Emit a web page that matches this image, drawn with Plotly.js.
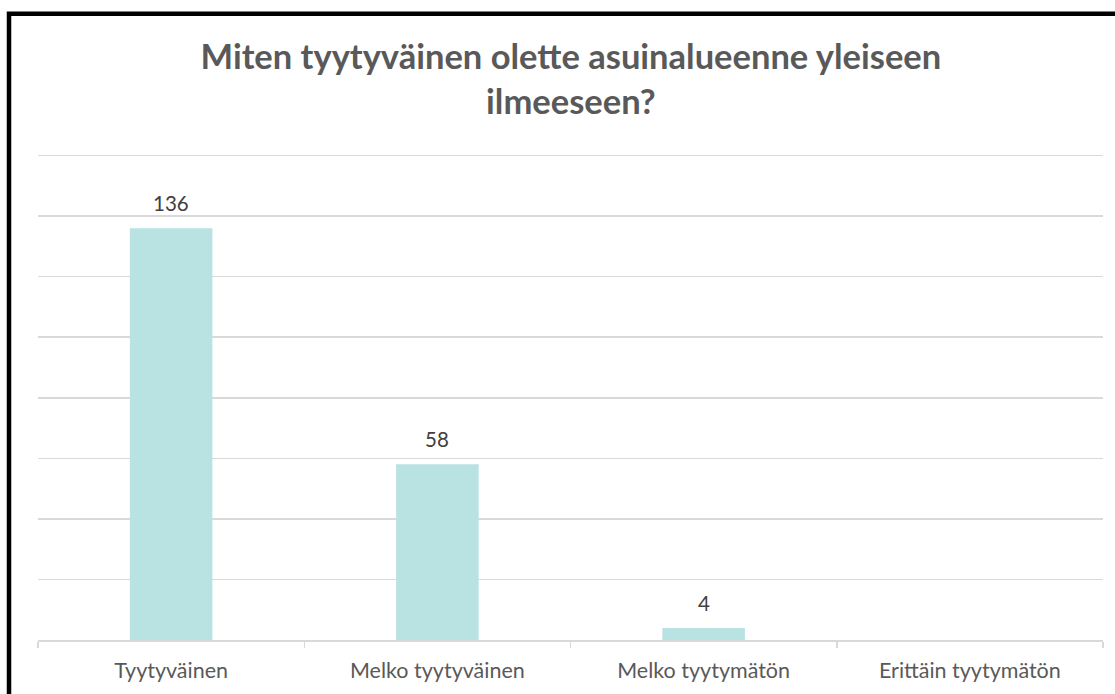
<!DOCTYPE html>
<html>
<head>
<meta charset="utf-8">
<script src="https://cdn.plot.ly/plotly-3.0.1.min.js"></script>
<style>
  html, body { margin: 0; padding: 0; background: #ffffff; }
  #chart { width: 1115px; height: 694px; }
</style>
</head>
<body>
<div id="chart"></div>
<script>
const categories = ['Tyytyväinen', 'Melko tyytyväinen', 'Melko tyytymätön', 'Erittäin tyytymätön'];
const counts = [136, 58, 4, null];
const dataLabels = ['136', '58', '4', ''];
const chartTitle = 'Miten tyytyväinen olette asuinalueenne yleiseen<br>ilmeeseen?';

const FONT = 'Lato, "Open Sans", sans-serif';
const TEXT = '#595959';
const GRID = '#d9d9d9';

const trace = {
  type: 'bar',
  x: categories,
  y: counts,
  marker: { color: '#b9e2e3' },
  width: 0.31,
  hoverinfo: 'x+y'
};

const annotations = categories.map((c, i) => ({
  x: c,
  y: counts[i] === null ? 0 : counts[i],
  text: dataLabels[i],
  showarrow: false,
  xref: 'x', yref: 'y',
  yanchor: 'bottom',
  yshift: 11,
  font: { family: FONT, size: 20.5, color: '#404040' }
})).filter(a => a.text !== '');

const layout = {
  width: 1115,
  height: 694,
  paper_bgcolor: '#ffffff',
  plot_bgcolor: '#ffffff',
  margin: { l: 38, r: 12, t: 153.5, b: 54, pad: 0 },
  showlegend: false,
  title: {
    text: chartTitle,
    font: { family: FONT, size: 34.5, color: TEXT, weight: 'bold' },
    x: 0.512,
    xanchor: 'center',
    y: 0.9,
    yref: 'container',
    yanchor: 'top'
  },
  xaxis: {
    type: 'category',
    showline: true,
    linecolor: GRID,
    linewidth: 1.5,
    ticks: 'outside',
    tickson: 'boundaries',
    ticklen: 6,
    tickcolor: GRID,
    tickwidth: 1.5,
    showgrid: false,
    ticklabelstandoff: 11,
    tickfont: { family: FONT, size: 21.5, color: TEXT },
    fixedrange: true
  },
  yaxis: {
    range: [0, 160.5],
    dtick: 20,
    tick0: 0,
    showgrid: true,
    gridcolor: GRID,
    gridwidth: 1.5,
    zeroline: false,
    showticklabels: false,
    ticks: '',
    fixedrange: true
  },
  annotations: annotations,
  shapes: [{
    type: 'rect',
    xref: 'paper', yref: 'paper',
    x0: (9 - 38) / 1065,
    x1: (1130 - 38) / 1065,
    y0: (640 - 720) / 486.5,
    y1: (640 - 13) / 486.5,
    line: { color: '#000000', width: 4.5 },
    fillcolor: 'rgba(0,0,0,0)',
    layer: 'above'
  }]
};

Plotly.newPlot('chart', [trace], layout, { displayModeBar: false, staticPlot: true });
</script>
</body>
</html>
